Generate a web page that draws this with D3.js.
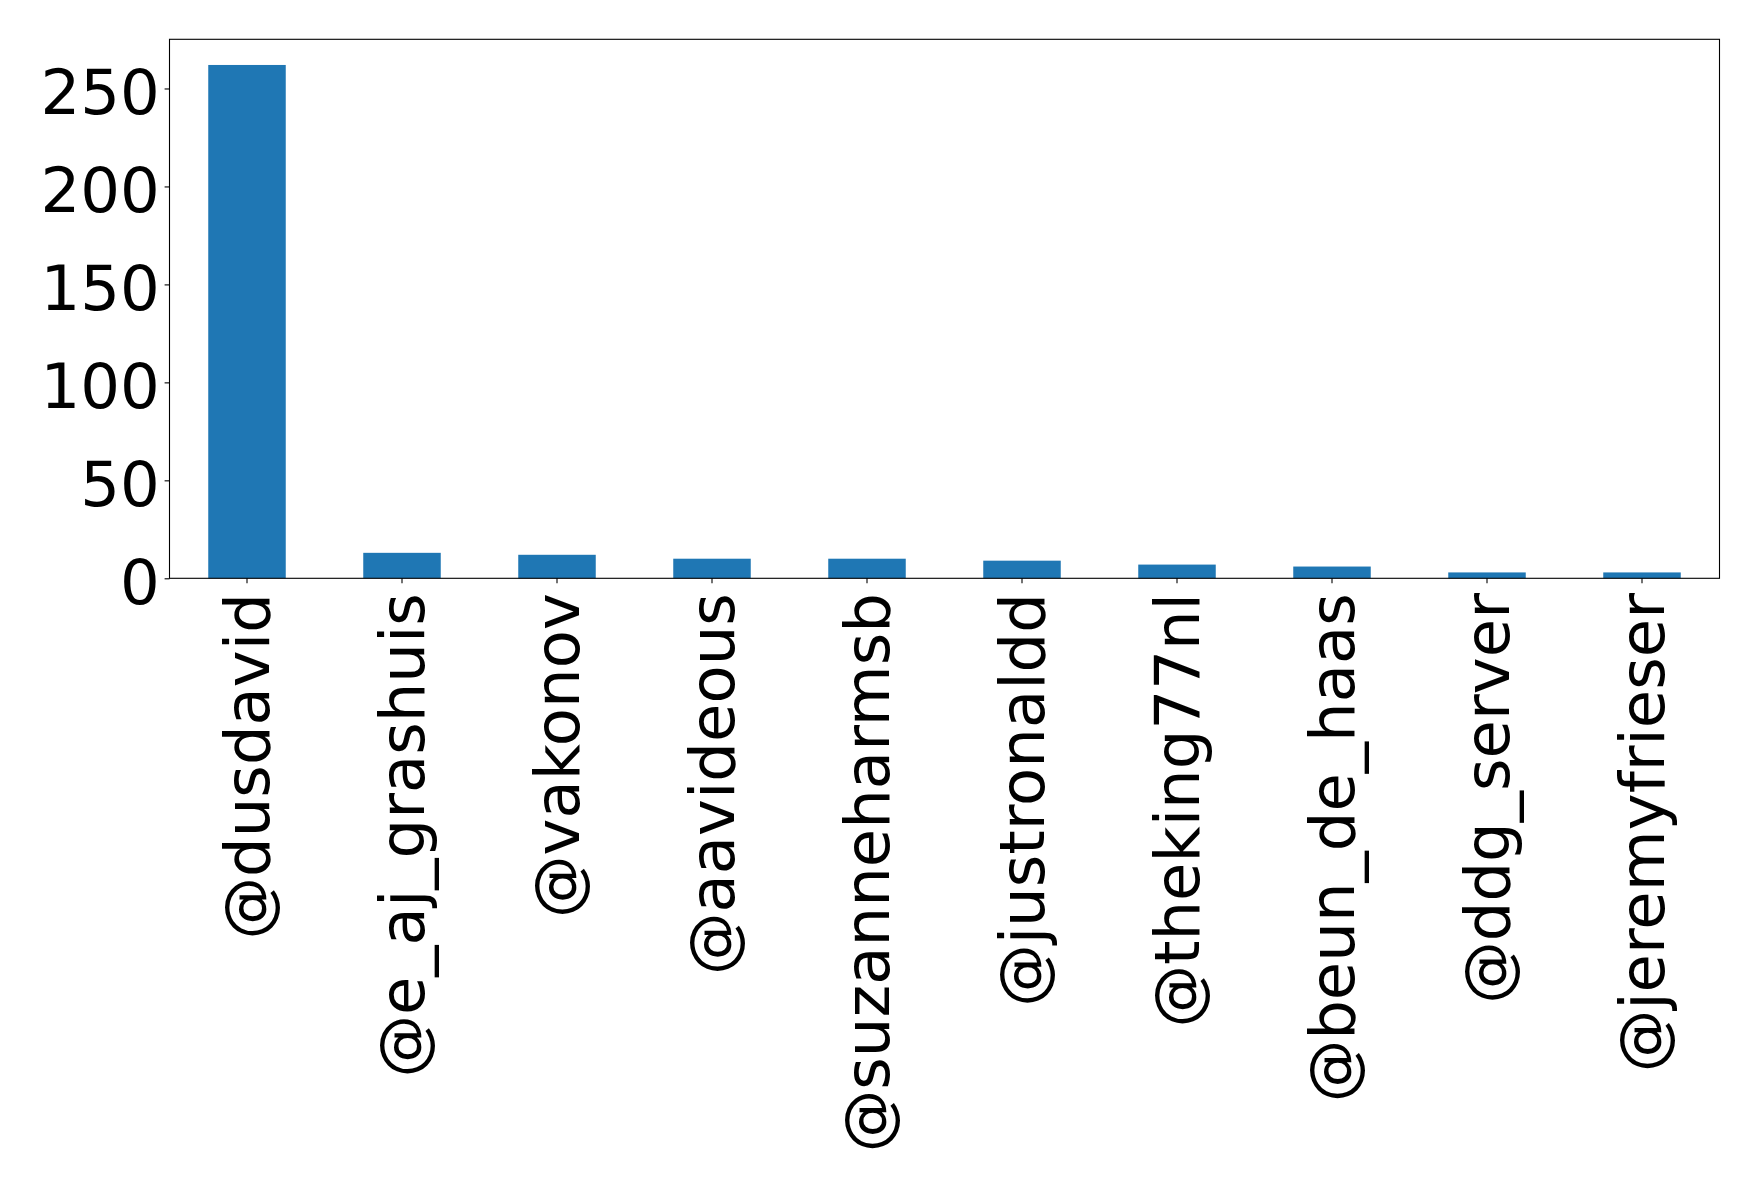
<!DOCTYPE html>
<html>
<head>
<meta charset="utf-8">
<script src="https://cdn.jsdelivr.net/npm/d3@7/dist/d3.min.js"></script>
<style>
  html, body { margin: 0; padding: 0; background: #fff; }
  svg { display: block; }
  text { font-family: "DejaVu Sans", sans-serif; fill: #000; }
</style>
</head>
<body>
<svg id="chart" width="1758" height="1186"></svg>
<script>
const categories = ["@dusdavid", "@e_aj_grashuis", "@vakonov", "@aavideous", "@suzanneharmsb",
                    "@justronaldd", "@theking77nl", "@beun_de_haas", "@ddg_server", "@jeremyfrieser"];
const counts = [262, 13, 12, 10, 10, 9, 7, 6, 3, 3];
const yTicks = [0, 50, 100, 150, 200, 250];

const plotLeft = 169.5, plotRight = 1719.5, plotTop = 39.3, plotBottom = 578.3;
const fontSize = 62.5;
const tickLen = 4.9, tickPad = 4.9;

const svg = d3.select("#chart");

const x = d3.scaleBand().domain(categories).range([plotLeft, plotRight])
  .paddingInner(0.5).paddingOuter(0.25);
const y = d3.scaleLinear().domain([0, d3.max(counts) * 1.05]).range([plotBottom, plotTop]);

// bars
svg.append("g").selectAll("rect").data(categories).join("rect")
  .attr("x", d => x(d))
  .attr("width", x.bandwidth())
  .attr("y", (d, i) => y(counts[i]))
  .attr("height", (d, i) => y(0) - y(counts[i]))
  .attr("fill", "#1f77b4");

// y axis
const yAxis = d3.axisLeft(y).tickValues(yTicks).tickSize(tickLen).tickPadding(tickPad).tickFormat(d3.format("d"));
const gy = svg.append("g").attr("transform", `translate(${plotLeft},0)`).call(yAxis);
gy.select(".domain").remove();
gy.selectAll(".tick line").attr("stroke", "#000").attr("stroke-width", 1.1);
gy.selectAll(".tick text")
  .attr("font-size", fontSize)
  .attr("font-family", "DejaVu Sans")
  .attr("fill", "#000")
  .attr("dy", "0.4em");

// x axis
const xAxis = d3.axisBottom(x).tickSize(tickLen).tickPadding(tickPad);
const gx = svg.append("g").attr("transform", `translate(0,${plotBottom})`).call(xAxis);
gx.select(".domain").remove();
gx.selectAll(".tick line").attr("stroke", "#000").attr("stroke-width", 1.1);
gx.selectAll(".tick text")
  .attr("font-size", fontSize)
  .attr("font-family", "DejaVu Sans")
  .attr("fill", "#000")
  .attr("text-anchor", "end")
  .attr("x", 0)
  .attr("y", 0)
  .attr("dy", "0.35em")
  .attr("transform", `translate(0,${tickLen + tickPad + 5}) rotate(-90)`);

// frame
svg.append("rect")
  .attr("x", plotLeft).attr("y", plotTop)
  .attr("width", plotRight - plotLeft).attr("height", plotBottom - plotTop)
  .attr("fill", "none").attr("stroke", "#000").attr("stroke-width", 1.1);
</script>
</body>
</html>
